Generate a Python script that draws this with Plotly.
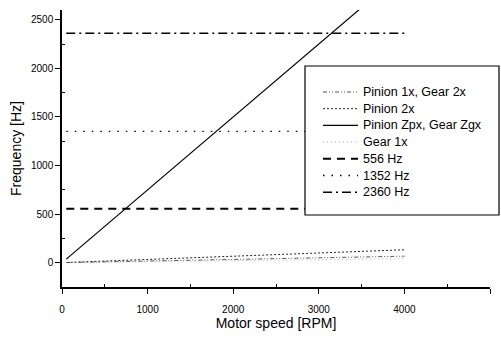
import plotly.graph_objects as go

# Motor speed sweep (RPM)
rpm = [50, 4000]

# Gear-mesh frequencies vs motor speed (Hz)
pinion1x_gear2x = [1, 67]
pinion2x = [2, 133]
mesh = [37, 3000]
gear1x = [1, 42]

# Measured resonance frequencies (Hz)
res556 = [556, 556]
res1352 = [1352, 1352]
res2360 = [2360, 2360]

FONT = "Liberation Sans, Arial, sans-serif"

series = [
    ("Pinion 1x, Gear 2x", pinion1x_gear2x, dict(color="#555", width=1, dash="4px,2px,1px,2px,1px,2px")),
    ("Pinion 2x", pinion2x, dict(color="#222", width=1, dash="2px,2px")),
    ("Pinion Zpx, Gear Zgx", mesh, dict(color="black", width=1.2)),
    ("Gear 1x", gear1x, dict(color="#aaa", width=1, dash="1px,3px")),
    ("556 Hz", res556, dict(color="black", width=2, dash="8px,6px")),
    ("1352 Hz", res1352, dict(color="black", width=1.3, dash="1.5px,7px")),
    ("2360 Hz", res2360, dict(color="black", width=1.5, dash="9px,4px,2px,4px")),
]

fig = go.Figure()
for name, vals, line in series:
    fig.add_trace(go.Scatter(x=rpm, y=vals, mode="lines", name=name, line=line,
                             showlegend=False))

# Plot-area pixel box, used to place the hand-built legend
L, R, T, B = 62, 490, 10, 287
def px_x(p):
    return (p - L) / (R - L)
def px_y(p):
    return (B - p) / (B - T)

# Legend frame (opaque, hides the curves behind it)
fig.add_shape(type="rect", xref="paper", yref="paper", layer="above",
              x0=px_x(305), x1=px_x(499), y0=px_y(215), y1=px_y(66),
              line=dict(color="black", width=1.2), fillcolor="white")

# Legend entries: line sample + label
row0, row_step = 92, 16.7
for i, (name, _, line) in enumerate(series):
    yy = px_y(row0 + i * row_step)
    fig.add_shape(type="line", xref="paper", yref="paper", layer="above",
                  x0=px_x(323), x1=px_x(358), y0=yy, y1=yy, line=line)
    fig.add_annotation(xref="paper", yref="paper", x=px_x(361), y=yy,
                       xanchor="left", yanchor="middle", showarrow=False,
                       text=name, font=dict(family=FONT, size=12.5, color="black"))

fig.update_layout(
    width=501, height=337,
    margin=dict(l=L, r=501 - R, t=T, b=337 - B),
    paper_bgcolor="white", plot_bgcolor="white",
    font=dict(family=FONT, color="black"),
    showlegend=False,
    xaxis=dict(range=[0, 5000], tickvals=[0, 1000, 2000, 3000, 4000, 5000],
               showgrid=False, zeroline=False, showline=True, linecolor="black",
               linewidth=1.5, ticks="outside", ticklen=5, tickcolor="black",
               tickfont=dict(size=10), ticklabelstandoff=7,
               minor=dict(tickvals=[500, 1500, 2500, 3500, 4500], ticks="inside",
                          ticklen=3, tickcolor="black"),
               title=dict(text="Motor speed [RPM]", font=dict(size=14), standoff=3)),
    yaxis=dict(range=[-250, 2600], tickvals=[0, 500, 1000, 1500, 2000, 2500],
               showgrid=False, zeroline=False, showline=True, linecolor="black",
               linewidth=1.5, ticks="outside", ticklen=5, tickcolor="black",
               tickfont=dict(size=10),
               minor=dict(tickvals=[-250, 250, 750, 1250, 1750, 2250], ticks="inside",
                          ticklen=3, tickcolor="black"),
               title=dict(text="Frequency [Hz]", font=dict(size=14), standoff=6)),
)

fig.write_html("out.html")
